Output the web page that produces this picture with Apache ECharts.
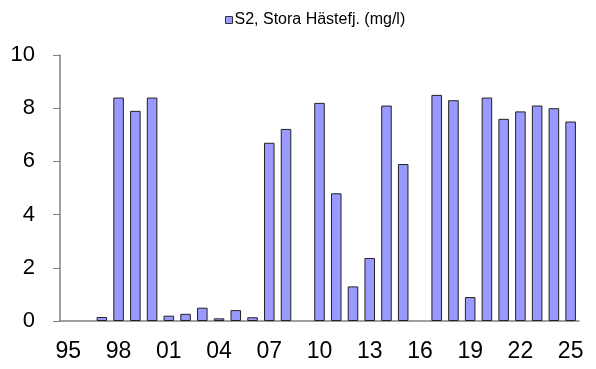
<!DOCTYPE html>
<html>
<head>
<meta charset="utf-8">
<script src="https://cdn.jsdelivr.net/npm/echarts@6/dist/echarts.min.js"></script>
<style>
  html, body { margin: 0; padding: 0; background: #fff; }
  #chart { width: 596px; height: 369px; }
</style>
</head>
<body>
<div id="chart"></div>
<script>
// år 1995-2025, etiketter som två siffror
var years = ['95','96','97','98','99','00','01','02','03','04','05','06','07','08','09',
             '10','11','12','13','14','15','16','17','18','19','20','21','22','23','24','25'];
// S2, Stora Hästefj. (mg/l) - null där mätning saknas
var s2Values = [null, null, 0.15, 8.4, 7.9, 8.4, 0.2, 0.27, 0.5, 0.1, 0.41, 0.14, 6.7, 7.22, null,
                8.2, 4.8, 1.3, 2.37, 8.1, 5.9, null, 8.5, 8.3, 0.9, 8.4, 7.6, 7.88, 8.1, 8.0, 7.5];
var yTicks = [0, 2, 4, 6, 8, 10];

window.onload = function () {
    var chart = echarts.init(document.getElementById('chart'));
    var option = {
        animation: false,
        legend: {
            top: 7,
            left: 220,
            icon: 'rect',
            itemWidth: 7,
            itemHeight: 7,
            textStyle: { fontFamily: 'Liberation Sans', fontSize: 16, color: '#000', padding: [0, 0, 0, -3] },
            data: [{
                name: 'S2, Stora Hästefj. (mg/l)',
                itemStyle: { color: '#9999FF', borderColor: '#333', borderWidth: 1 }
            }]
        },
        grid: { left: 60, right: 17, top: 55, bottom: 48 },
        xAxis: {
            type: 'category',
            data: years,
            axisLine: { lineStyle: { color: '#808080', width: 1.5 } },
            axisTick: { show: false },
            axisLabel: {
                interval: 2,
                margin: 19,
                fontFamily: 'Liberation Sans',
                fontSize: 23,
                color: '#000'
            }
        },
        yAxis: {
            type: 'value',
            min: yTicks[0],
            max: yTicks[yTicks.length - 1],
            interval: 2,
            splitLine: { show: false },
            axisLine: { show: true, lineStyle: { color: '#808080', width: 1.5 } },
            axisTick: { show: true, inside: false, length: 7, lineStyle: { color: '#808080' } },
            axisLabel: {
                margin: 25,
                fontFamily: 'Liberation Sans',
                fontSize: 22,
                color: '#000'
            }
        },
        series: [
            {
                name: 'S2, Stora Hästefj. (mg/l)',
                type: 'bar',
                data: s2Values,
                barWidth: '63%',
                itemStyle: {
                    color: '#9999FF',
                    borderColor: '#222',
                    borderWidth: 1
                }
            }
        ]
    };
    chart.setOption(option);
};
</script>
</body>
</html>
